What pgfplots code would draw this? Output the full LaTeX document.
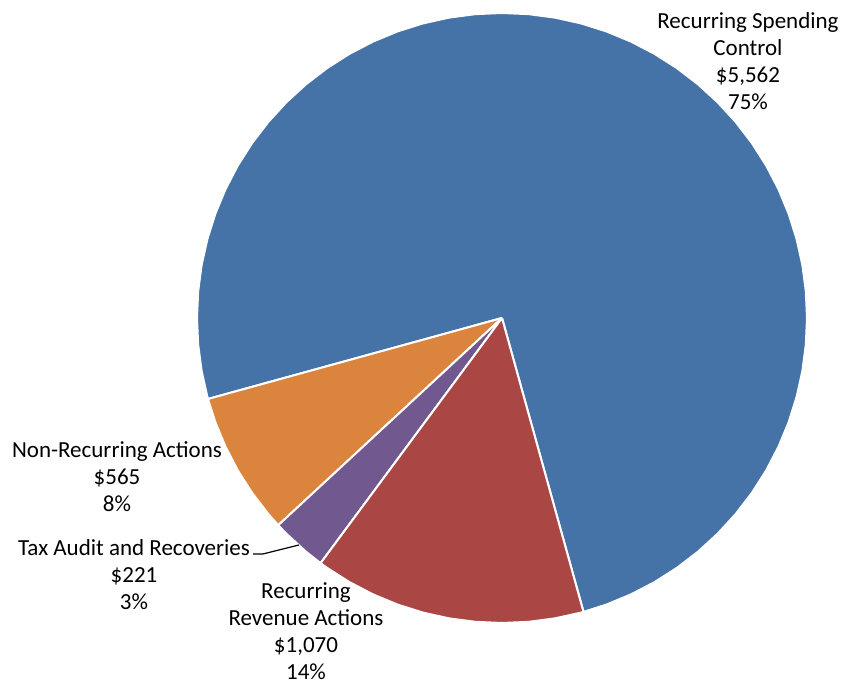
\documentclass[border=0pt]{standalone}
\usepackage{fontspec}
\setmainfont{Carlito}
\usepackage{pgfplots}
\pgfplotsset{compat=1.18}

\definecolor{cBlue}{HTML}{4572A7}
\definecolor{cRed}{HTML}{AA4643}
\definecolor{cOrange}{HTML}{DB843D}
\definecolor{cPurple}{HTML}{71588F}

\tikzset{lbl/.style={font=\fontsize{11.5pt}{13.5pt}\selectfont, align=center, anchor=center, inner sep=0pt}}

% values: 5562, 1070, 221, 565 (total 7418) -> slice angles in degrees
\begin{document}
\begin{tikzpicture}
\begin{axis}[
    scale only axis,
    width=421.5pt, height=342.5pt,
    xmin=-502, xmax=341,
    ymin=-367, ymax=318,
    hide axis,
    clip=false,
    every axis plot/.append style={draw=white, line width=1pt},
]
% invisible frame so the page keeps the full size
\path (axis cs:-502,-367) rectangle (axis cs:341,318);

% Recurring Spending Control, $5,562
\addplot[fill=cBlue, data cs=polar] coordinates {
    (-74.5,0) (-74.5,305) (-70,305) (-65,305) (-60,305) (-55,305) (-50,305)
    (-45,305) (-40,305) (-35,305) (-30,305) (-25,305) (-20,305) (-15,305)
    (-10,305) (-5,305) (0,305) (5,305) (10,305) (15,305) (20,305) (25,305)
    (30,305) (35,305) (40,305) (45,305) (50,305) (55,305) (60,305) (65,305)
    (70,305) (75,305) (80,305) (85,305) (90,305) (95,305) (100,305) (105,305)
    (110,305) (115,305) (120,305) (125,305) (130,305) (135,305) (140,305)
    (145,305) (150,305) (155,305) (160,305) (165,305) (170,305) (175,305)
    (180,305) (185,305) (190,305) (195,305) (195.4,305) (195.4,0)
};
% Non-Recurring Actions, $565
\addplot[fill=cOrange, data cs=polar] coordinates {
    (195.4,0) (195.4,305) (200,305) (205,305) (210,305) (215,305) (220,305)
    (222.8,305) (222.8,0)
};
% Tax Audit and Recoveries, $221
\addplot[fill=cPurple, data cs=polar] coordinates {
    (222.8,0) (222.8,305) (225,305) (230,305) (233.5,305) (233.5,0)
};
% Recurring Revenue Actions, $1,070
\addplot[fill=cRed, data cs=polar] coordinates {
    (233.5,0) (233.5,305) (235,305) (240,305) (245,305) (250,305) (255,305)
    (260,305) (265,305) (270,305) (275,305) (280,305) (285,305) (285.5,305)
    (285.5,0)
};

% data labels
\node[lbl] at (axis cs:246,257) {Recurring Spending\\Control\\\$5,562\\75\%};
\node[lbl] at (axis cs:-385,-158.5) {Non-Recurring Actions\\\$565\\8\%};
\node[lbl] at (axis cs:-368,-256.5) {Tax Audit and Recoveries\\\$221\\3\%};
\node[lbl] at (axis cs:-196,-313.5) {Recurring\\Revenue Actions\\\$1,070\\14\%};
\draw[black, line width=0.6pt] (axis cs:-249,-236) -- (axis cs:-239,-236) -- (axis cs:-203,-227);
\end{axis}
\end{tikzpicture}
\end{document}
